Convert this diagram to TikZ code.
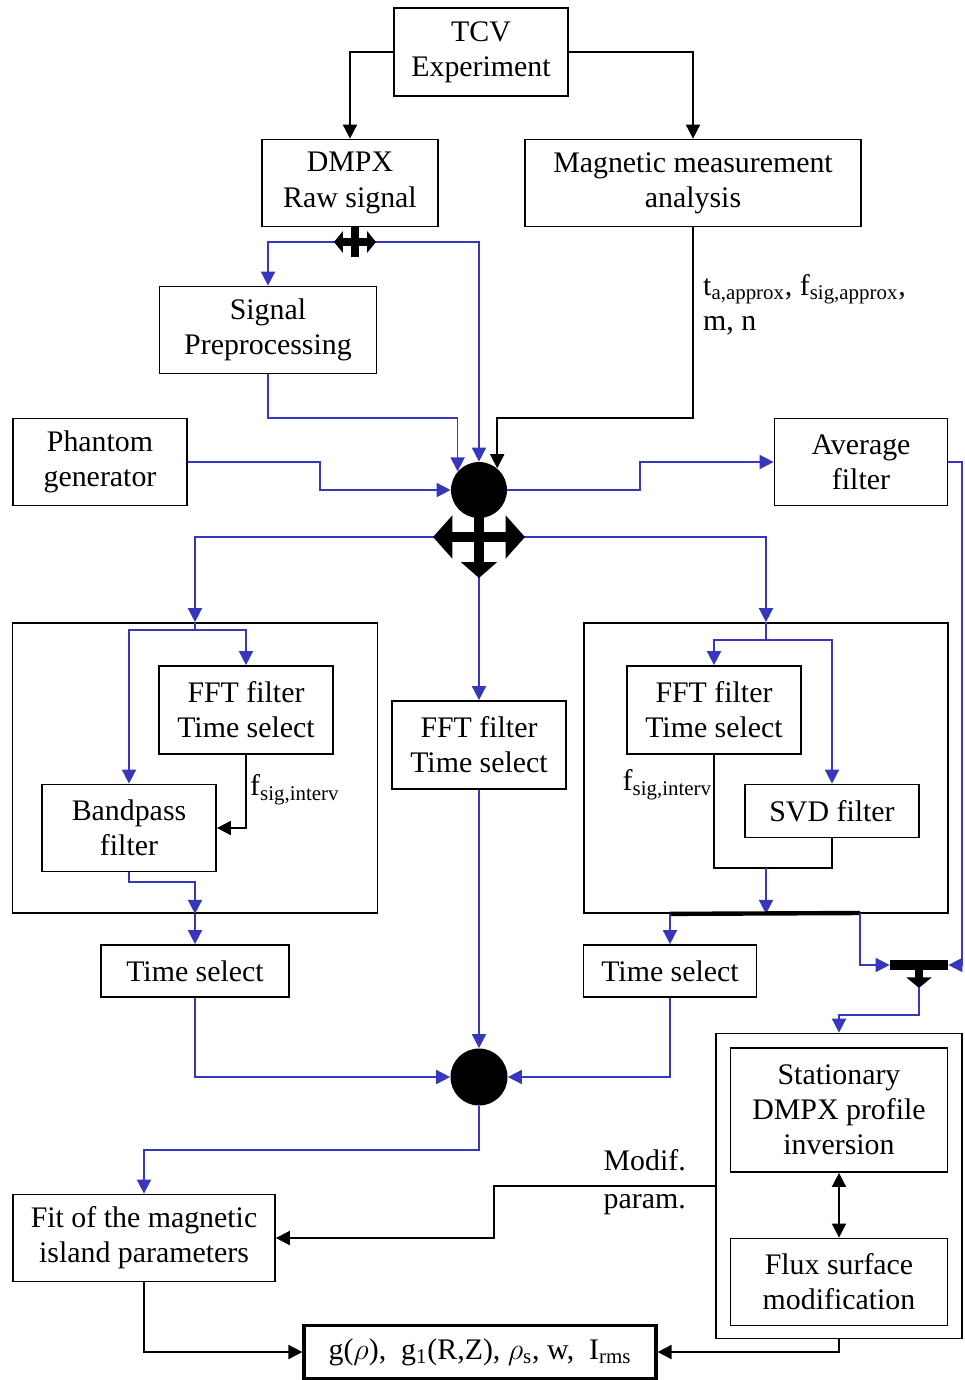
\documentclass[tikz,border=0pt]{standalone}
\usepackage{fontspec}
\setmainfont{Liberation Serif}
\usetikzlibrary{arrows.meta,positioning,calc}
\definecolor{flowblue}{RGB}{55,55,190}

\begin{document}
\begin{tikzpicture}[x=0.02cm,y=-0.02cm, every node/.style={font=\fontsize{17}{20}\selectfont},
  box/.style 2 args={draw,line width=1pt,align=center,inner sep=0pt,minimum width=#1*0.02cm,minimum height=#2*0.02cm},
  bluearr/.style={draw=flowblue,line width=1pt,-{Triangle[length=8pt,width=8pt]}},
  blackarr/.style={draw=black,line width=1pt,-{Triangle[length=8pt,width=8pt]}},
  bigtip/.style={line width=6pt,{Triangle[length=11pt,width=24pt]}-{Triangle[length=11pt,width=24pt]}}]
  \useasboundingbox (0,0) rectangle (964,1380);

  % boxes
  \node[box={174}{88}] (tcv) at (481,52) {TCV\\Experiment};
  \node[box={176}{87}] (dmpx) at (350,183) {DMPX\\Raw signal};
  \node[box={336}{87}] (mag) at (693,183) {Magnetic measurement\\analysis};
  \node[box={217}{87}] (prep) at (268,330) {Signal\\Preprocessing};
  \node[box={174}{87}] (phantom) at (100,462) {Phantom\\generator};
  \node[box={173}{87}] (avg) at (861,462) {Average\\filter};
  \node[box={365}{290}] (lbox) at (195,768) {};
  \node[box={364}{290}] (rbox) at (766,768) {};
  \foreach \n/\x/\y in {lfft/246/710, cfft/479/745, rfft/714/710}
    \node[box={174}{88}] (\n) at (\x,\y) {FFT filter\\Time select};
  \node[box={174}{87}] (bp) at (129,828) {Bandpass\\filter};
  \node[box={174}{53}] (svd) at (832,811) {SVD filter};
  \foreach \n/\x/\w in {tsl/195/188, tsr/670/173}
    \node[box={\w}{52}] (\n) at (\x,971) {Time select};
  \node[box={246}{305}] (obox) at (839,1186) {};
  \node[box={217}{124}] (stat) at (839,1110) {Stationary\\DMPX profile\\inversion};
  \node[box={217}{87}] (flux) at (839,1282) {Flux surface\\modification};
  \node[box={262}{87}] (fit) at (144,1238) {Fit of the magnetic\\island parameters};
  \node[box={352}{53},line width=1.8pt] (out) at (480,1352)
    {g($\rho$),\ \ g\textsubscript{1}(R,Z), $\rho$\textsubscript{s}, w,\ \ I\textsubscript{rms}};

  % junctions
  \node[circle,fill,inner sep=0pt,minimum size=56*0.02cm] (hubA) at (479,490) {};
  \node[circle,fill,inner sep=0pt,minimum size=57*0.02cm] (hubB) at (479,1077) {};
  \node[fill,inner sep=0pt,minimum width=58*0.02cm,minimum height=10*0.02cm] (tbar) at (919,965) {};
  \coordinate (split) at (355,242);
  \coordinate (cross) at (479,537);
  \coordinate (lsplit) at (195,630);
  \coordinate (rsplit) at (766,640);
  \coordinate (rjoin) at (766,868);
  \coordinate (tstem) at (919,988);

  % connectors
  \draw[blackarr] (tcv.west) -| (dmpx.north);
  \draw[blackarr] (tcv.east) -| (mag.north);
  \draw[bluearr] (split) -| (prep.north);
  \draw[bluearr] (split) -| (hubA.north);
  \draw[bluearr] (prep.south) -- (268,418) -| (hubA.139);
  \draw[blackarr] (mag.south) -- (693,418) -| (hubA.50);
  \node[anchor=north west,align=left] (maglbl) at (697,268)
    {t\textsubscript{a,approx}, f\textsubscript{sig,approx},\\m, n};
  \draw[bluearr] (phantom.east) -- (320,462) |- (hubA.west);
  \draw[bluearr] (hubA.east) -- (640,490) |- (avg.west);
  \draw[bluearr] (avg.east) -- (962,462) |- (tbar.east);
  \draw[bluearr] (cross) -| (lbox.north);
  \draw[bluearr] (cross) -| (rbox.north);
  \draw[bluearr] (cross) -- (cfft.north);

  % left filter block
  \draw[bluearr] (lbox.north) -- (lsplit) -| (bp.north);
  \draw[bluearr] (lsplit) -| (lfft.north);
  \draw[blackarr] (lfft.south) |- (bp.east);
  \node[anchor=west] (lflbl) at (244,790) {f\textsubscript{sig,interv}};
  \draw[bluearr] (bp.south) -- (129,882) -| (lbox.south);
  \draw[bluearr] (lbox.south) -- (tsl.north);

  % right filter block
  \draw[bluearr] (rbox.north) -- (rsplit) -| (rfft.north);
  \draw[bluearr] (rsplit) -| (svd.north);
  \draw[line width=1pt] (rfft.south) |- (rjoin) -| (svd.south);
  \node[anchor=east,inner sep=1pt] (rflbl) at (714,785) {f\textsubscript{sig,interv}};
  \draw[bluearr] (rjoin) -- (rbox.south);
  \draw[line width=2.5pt] (tsr.north |- rbox.south) -- (860,913);
  \draw[bluearr] (tsr.north |- rbox.south) -- (tsr.north);
  \draw[bluearr] (860,913) |- (tbar.west);

  % recombination and fit
  \draw[bluearr] (cfft.south) -- (hubB.north);
  \draw[bluearr] (tsl.south) |- (hubB.west);
  \draw[bluearr] (tsr.south) |- (hubB.east);
  \draw[bluearr] (hubB.south) -- (479,1150) -| (fit.north);
  \draw[bluearr] (tstem) -- (919,1015) -| (obox.north);
  \draw[line width=1pt,{Triangle[length=8pt,width=8pt]}-{Triangle[length=8pt,width=8pt]}] (stat.south) -- (flux.north);
  \draw[blackarr] (obox.west) -- (494,1186) |- (fit.east);
  \node[anchor=east] (modif) at (692,1160) {Modif.};
  \node[anchor=east] (param) at (692,1205) {param.};
  \draw[blackarr] (fit.south) |- (out.west);
  \draw[blackarr] (obox.south) |- (out.east);

  % flow symbols
  \draw[line width=4pt] (dmpx.south -| split) -- ++(0,30);
  \draw[line width=4pt,{Triangle[length=5pt,width=12pt]}-{Triangle[length=5pt,width=12pt]}] (split) ++(-21,0) -- ++(42,0);
  \draw[bigtip] (cross) ++(-46,0) -- ++(92,0);
  \draw[line width=6pt,-{Triangle[length=9pt,width=20pt]}] (hubA.center) -- (479,578);
  \draw[line width=5pt,-{Triangle[length=6pt,width=14pt]}] (tbar.center) -- (tstem);
\end{tikzpicture}
\end{document}
